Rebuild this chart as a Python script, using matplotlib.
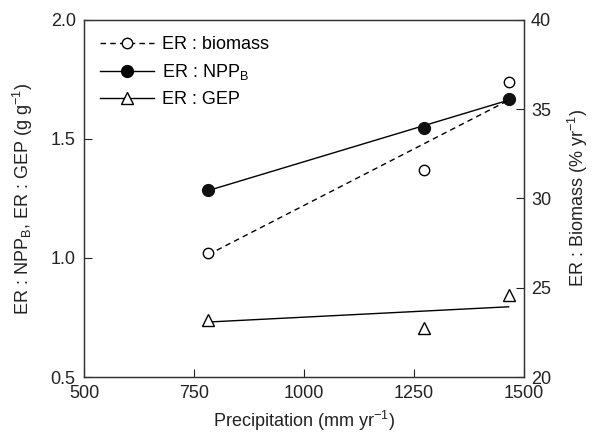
import matplotlib
matplotlib.use("Agg")
import matplotlib.pyplot as plt
from matplotlib.lines import Line2D

plt.rcParams['font.family'] = ['Liberation Sans', 'DejaVu Sans']
plt.rcParams['mathtext.default'] = 'regular'
plt.rcParams['font.size'] = 13

# precipitation (mm/yr)
precip = [782, 1272, 1465]
# ER : biomass (% / yr), right axis
er_biomass = [26.95, 31.6, 36.5]
# ER : NPP_B and ER : GEP (g/g), left axis
er_npp = [1.286, 1.546, 1.668]
er_gep = [0.739, 0.706, 0.845]

# fitted lines (ends only)
fit_x = [782, 1465]
fit_biomass = [26.85, 35.5]
fit_npp = [1.283, 1.663]
fit_gep = [0.731, 0.795]

fig = plt.figure(figsize=(5.93, 4.42), dpi=100)
ax = fig.add_axes([0.1417, 0.147, 0.742, 0.808])
ax2 = ax.twinx()

ax.plot(fit_x, fit_npp, color='black', lw=1.0)
ax.plot(precip, er_npp, 'o', color='#111111', ms=8.5)
ax.plot(fit_x, fit_gep, color='black', lw=1.0)
ax.plot(precip, er_gep, '^', mfc='white', mec='black', mew=1.0, ms=8)

ax2.plot(fit_x, fit_biomass, color='black', lw=1.0, ls=(0, (4, 3)))
ax2.plot(precip, er_biomass, 'o', mfc='white', mec='black', mew=1.0, ms=7.5)

ax.set_xlim(500, 1500)
ax.set_ylim(0.5, 2.0)
ax2.set_ylim(20, 40)
ax.set_xticks([500, 750, 1000, 1250, 1500])
ax.set_yticks([0.5, 1.0, 1.5, 2.0])
ax.set_yticklabels(['0.5', '1.0', '1.5', '2.0'])
ax2.set_yticks([20, 25, 30, 35, 40])

for a in (ax, ax2):
    a.tick_params(direction='in', length=6, width=0.8, colors='#222222')
    for s in a.spines.values():
        s.set_linewidth(0.9)
        s.set_color('#333333')
ax.tick_params(axis='x', pad=6)
ax.tick_params(axis='y', pad=6)
ax2.tick_params(axis='y', pad=5)

ax.set_xlabel('Precipitation (mm yr$^{-1}$)', color='#222222', labelpad=5)
ax.set_ylabel('ER : NPP$_B$, ER : GEP (g g$^{-1}$)', color='#222222', labelpad=11)
ax2.set_ylabel('ER : Biomass (% yr$^{-1}$)', color='#222222', labelpad=11)

handles = [
    Line2D([], [], color='black', lw=1.0, ls=(0, (4, 3)), marker='o', mfc='white', mec='black', ms=7.5),
    Line2D([], [], color='black', lw=1.0, marker='o', ms=8.5),
    Line2D([], [], color='black', lw=1.0, marker='^', mfc='white', mec='black', ms=8),
]
labels = ['ER : biomass', 'ER : NPP$_B$', 'ER : GEP']
ax.legend(handles, labels, loc='upper left', frameon=False, handlelength=3.0,
          handletextpad=0.4, labelspacing=0.5, borderaxespad=0.5, fontsize=13)

fig.savefig('out.png', dpi=100)
